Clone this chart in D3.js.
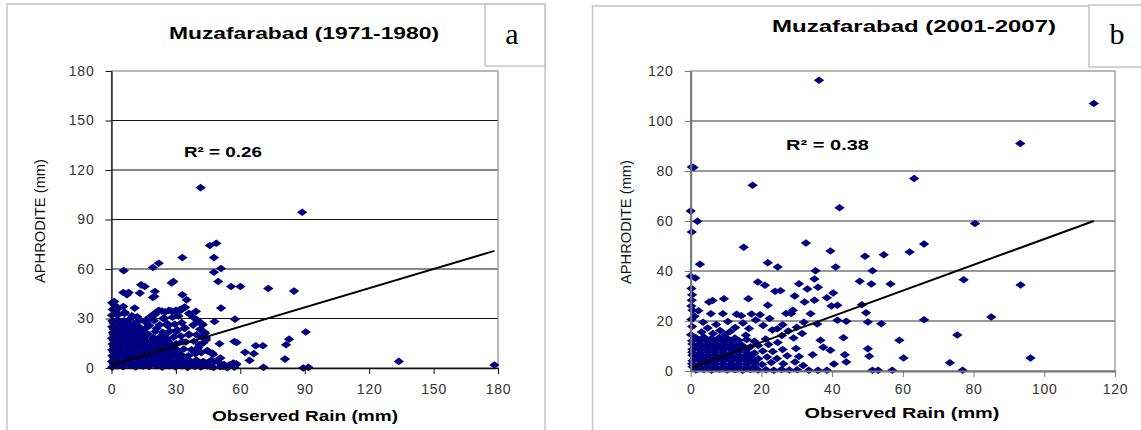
<!DOCTYPE html>
<html>
<head>
<meta charset="utf-8">
<script src="https://cdn.jsdelivr.net/npm/d3@7/dist/d3.min.js"></script>
<style>
body { margin: 0; background: #fff; }
svg { display: block; font-family: "Liberation Sans", Arial, sans-serif; }
</style>
</head>
<body>
<div id="chart"></div>
<script>
// ---- panel a : Muzafarabad 1971-1980 (observed rain, aphrodite) ----
const titleA = "Muzafarabad (1971-1980)";
const xTicksA = [0, 30, 60, 90, 120, 150, 180];
const yTicksA = [0, 30, 60, 90, 120, 150, 180];
const r2A = "R² = 0.26";
const trendA = [1.8, 0.388]; // intercept, slope
const outlierA = [[41.5,109.3],[88.8,94.4],[45.8,74.2],[48.8,75.6],[47.7,66.9],[33,66.9],[5.7,59],[19.3,60.9],
  [22,63.5],[47.7,58],[51,60.3],[49.7,52.4],[55.7,49.4],[60,49.4],[73,48.2],[85,46.6],[51,36.3],[39.3,34.3],
  [57.5,29.6],[48,28.2],[90.5,21.8],[82.7,17.5],[81.3,14.1],[67.2,13.5],[70.5,13.5],[62.2,9.5],[66.3,8.7],
  [64.3,4.6],[80.8,5.4],[133.8,4],[178.3,1.8],[70.8,0.4],[89.3,0],[91.7,0.4],[50.3,14.7],[50.7,6],[57.2,16.1],
  [58.3,15.5],[56.7,3],[58,2]];
const midA = [[5.5,45.8],[7.2,44.4],[8,45.8],[13.2,45.4],[13.8,50.4],[15.5,49.4],[20.2,46.4],[19.3,42.7],[20,43.5],
  [28.8,52.4],[28,51.5],[33,44.4],[35,41.3],[10.8,36.3],[5.5,37.3],[1.3,40.3],[22,35],[25,34],[28,34.5],[30,35],
  [32,35.5],[34,37],[36,33],[40,29],[42,27],[38,26],[43,22],[42,19],[44,17],[41,14],[40,12],[45,10],[47,9],[48,4],
  [52,1],[55,2],[46,1],[44,3],[36,20],[34,24],[33,16],[30,22],[26,27],[24,30],[18,31],[16,29],[12,31],[20,33],[3,36],[6,33]];
const clusterA = [[0.3,39.5],[1.5,38],[0.5,35.5],[2.5,36],[0.2,32],[1.8,33],[0.4,28.5],[0.3,25],[0.6,21.5],[0.2,18],
  [0.5,14.5],[0.3,11],[0.4,7.5],[0.2,4],[0.3,0.5],[1.2,2],
  [2.5,1.2],[5.4,0.8],[8.6,1.5],[11.3,0.6],[14.7,1.1],[17.5,0.9],[20.8,1.4],[23.6,0.5],[26.9,1.2],[29.7,0.7],[32.8,1.3],
  [35.5,0.4],[38.9,1.0],[41.6,0.6],[44.8,1.2],[47.5,0.3],[50.6,0.8],[53.9,0.2],[57.2,0.5],
  [1,2.8],[4,3.0],[7,2.6],[10,2.9],[13,2.7],[16,3.1],[19,2.6],[22,2.9],[25,2.7],[28,3.0],[31,2.6],[34,2.9],[37,2.5],[40,2.8],[43,2.4],
  [3.8,4.6],[6.9,4.2],[9.7,4.9],[12.8,4.3],[15.6,4.7],[18.9,4.1],[21.7,4.8],[24.8,4.4],[27.5,4.9],[30.9,4.2],[33.6,4.6],
  [36.8,4.0],[39.5,4.8],[42.7,3.9],[46.2,4.5],
  [1,6.2],[4,6.5],[7,6.1],[10,6.4],[13,6.0],[16,6.3],[19,6.6],[22,6.1],[25,6.4],[28,6.2],[31,6.5],[34,6.1],
  [2.2,8.1],[5.3,7.6],[8.4,8.3],[11.6,7.8],[14.3,8.4],[17.7,7.5],[20.5,8.2],[23.4,7.9],[26.6,8.5],[29.3,7.7],[32.5,8.0],
  [35.8,7.4],[39.1,8.6],[41.8,9.2],
  [1,9.7],[4,10.0],[7,9.6],[10,9.9],[13,9.5],[16,9.8],[19,10.1],[22,9.6],[25,9.9],[28,9.7],[31,10.2],
  [3.6,11.4],[6.7,11.9],[9.8,11.2],[12.4,11.7],[15.9,11.3],[18.6,11.8],[21.4,11.1],[24.7,11.6],[27.3,11.9],[30.4,11.2],
  [33.7,11.5],[37.2,11.0],
  [1,13.1],[4,13.4],[7,13.0],[10,13.3],[13,12.9],[16,13.2],[19,13.5],[22,13.0],[25,13.3],[28,13.1],
  [2.4,15.1],[5.8,14.6],[8.5,15.3],[11.2,14.8],[14.6,15.4],[17.4,14.7],[20.7,15.2],[23.5,14.9],[26.8,15.5],[30.1,14.6],
  [34.6,15.8],[38.4,16.2],
  [1,16.7],[4,17.0],[7,16.6],[10,16.9],[13,16.5],[16,16.8],[19.2,16.9],[22,17.1],[26,16.6],
  [3.5,18.6],[6.4,18.2],[9.6,18.9],[12.7,18.3],[15.3,18.8],[19.5,18.4],[22.6,18.9],[25.4,18.1],[28.9,18.7],[32.3,19.4],[36.1,20.5],
  [1,20.2],[4,20.5],[7,20.1],[10,20.4],[13,20.0],[17,20.6],[25,20.2],
  [2.1,22.2],[5.2,21.7],[8.8,22.4],[11.6,22.0],[14.5,22.5],[20.4,22.1],[23.8,21.6],[27.2,22.3],[30.6,23.1],[34.2,24.3],
  [1,23.7],[4,24.0],[7,23.6],[10,23.9],[13.2,23.8],[16,24.2],[21,23.9],
  [3.9,25.6],[6.6,25.1],[9.4,25.8],[12.5,25.3],[17.6,25.7],[22.5,26.2],[26.3,25.4],[29.5,26.5],[32.7,27.5],
  [1,27.2],[4,27.5],[7,27.1],[11,27.4],[16,27.6],
  [2.7,29.2],[5.9,28.6],[8.2,29.4],[13.4,29.0],[19.8,28.7],[24.6,30.2],[28.4,30.8],[31.2,31.5],
  [3.4,32.6],[6.2,33.8],[9.5,31.7],[20.3,32.4],[23.5,34.5],[26.8,34.9],[29.6,34.2],[32.4,35.1],[34.3,36.7],[36.4,32.8],
  [38.2,30.6],[40.3,28.4],[42.5,26.2],[41.2,23.5],[43.6,21.1],[44.1,18.2],[39.6,20.1],[42.8,15.3],[40.5,12.4],
  [44.6,10.6],[47.3,8.2],[49.5,3.8],[52.4,2.1],[55.3,1.6],[58.1,2.6]];

// ---- panel b : Muzafarabad 2001-2007 ----
const titleB = "Muzafarabad (2001-2007)";
const xTicksB = [0, 20, 40, 60, 80, 100, 120];
const yTicksB = [0, 20, 40, 60, 80, 100, 120];
const r2B = "R² = 0.38";
const trendB = [1.2, 0.516];
const outlierB = [[36.3,116.3],[114,107],[93.2,91],[0.3,81.6],[0.8,81.4],[63.2,77],[17.5,74.3],[42.1,65.3],[0,64],
  [1.9,59.9],[80.4,59],[0.3,55.6],[32.6,51.2],[66,50.8],[15,49.5],[39.5,48],[61.9,47.6],[54.6,46.5],[49.3,45.9],
  [2.6,42.7],[21.8,43.3],[24.6,41.6],[41,41.6],[35.3,40.1],[51.4,40.1],[0,37.9],[1.3,37.2],[77.2,36.5],[47.8,35.9],
  [51.1,34.8],[56.5,34.8],[93.3,34.4],[35,36.8],[30.6,34.9],[19,35.6],[21,34.3],[23.9,31.9],[25.4,32.1],[40.3,31.2],
  [29.4,30],[38.5,29.3],[35,28.3],[32.2,27.6],[9.4,28.9],[16.3,28.9],[5.2,27.6],[6.2,28.2],[0.3,28.3],[48.4,26.5],
  [41.5,26.3],[21.8,26.3],[28.9,24.3],[28.4,23],[49.6,23.3],[33.9,22.9],[13,22.7],[9.1,22.9],[5.7,22.9],[1.1,21.9],
  [85,21.6],[66,20.5],[41.5,20.3],[44,19.9],[50.1,19.6],[53.9,18.9],[24.5,16.9],[75.4,14.4],[59,12.3],[36.7,12.3],
  [43.2,13.3],[50.1,8.9],[43.6,6.5],[50.5,5.9],[60.2,5.2],[96.1,5.2],[44,3.6],[73.3,3.3],[51.4,0.3],[53,0.3],[57,0.3],
  [76.9,0.3],[33.4,0.3],[36,0.3],[38.5,0.3],[39.5,8.3],[40.5,2.8],[37.5,9.5],[34.5,6.5],[35.8,18.8],[32,19.5],
  [30,17.5],[26,18.5],[27,23],[33,32.8],[36,33.5],[39.8,26]];
const midB = [[3.5,19.5],[4.8,17.2],[7.2,18.6],[10.5,19.8],[8.3,16.2],[12.6,17.4],[14.8,19.2],[16.5,17.0],[18.4,20.4],
  [19.6,22.5],[17.2,22.8],[20.5,18.2],[22.3,21.0],[23.1,16.4],[25.8,14.2],[27.6,16.0],[29.1,13.2],[31.5,15.0],
  [11.2,15.8],[14.3,22.1],[2.2,24.1],[0.5,24.3],[0.2,20.6],[0.4,17.8],[3.1,15.6],[6.3,15.0],[9.8,14.7],[15.6,14.3],
  [0.2,33],[0.4,30.5],[0.2,26],[0.1,14.5]];
const clusterB = [[1.5,0.4],[3.7,0.6],[5.9,0.3],[8.1,0.7],[10.3,0.4],[12.5,0.5],[14.7,0.3],[16.9,0.6],[19.1,0.4],
  [21.3,0.5],[23.5,0.3],[25.7,0.6],[27.9,0.4],[30.1,0.5],
  [0.5,1.7],[2.6,1.6],[4.8,1.9],[7.0,1.5],[9.2,1.8],[11.4,1.6],[13.6,1.9],[15.8,1.5],[18.0,1.8],
  [0.4,2.9],[2.6,2.6],[4.8,3.1],[7.0,2.7],[9.2,3.0],[11.4,2.5],[13.6,2.9],[15.8,2.7],[18.0,3.2],[20.2,2.6],[22.8,3.4],
  [26.2,2.9],[29.5,3.6],[31.8,2.2],
  [0.5,4.1],[2.6,3.9],[4.8,4.2],[7.0,3.8],[9.2,4.1],[11.4,3.9],[13.6,4.2],[15.8,3.8],[18.0,4.0],
  [1.5,5.2],[3.7,4.9],[5.9,5.4],[8.1,5.0],[10.3,5.3],[12.5,4.8],[14.7,5.1],[16.9,5.5],[19.1,4.9],[21.6,5.6],[24.4,5.0],
  [27.3,6.1],[30.6,5.8],
  [0.5,6.3],[2.6,6.1],[4.8,6.5],[7.0,6.2],[9.2,6.4],[11.4,6.0],[13.6,6.4],[15.8,6.2],[17.6,6.6],
  [0.4,7.5],[2.6,7.2],[4.8,7.7],[7.0,7.3],[9.2,7.6],[11.4,7.1],[13.6,7.8],[15.8,7.4],[18.0,7.2],[20.4,8.0],[23.2,7.8],
  [26.0,8.6],[29.8,9.0],
  [0.5,8.7],[2.6,8.5],[4.8,8.8],[7.0,8.4],[9.2,8.7],[11.4,8.5],[13.6,8.9],[15.8,8.6],
  [1.5,9.8],[3.7,9.5],[5.9,10.0],[8.1,9.6],[10.3,9.9],[12.5,9.4],[14.7,10.1],[16.9,9.7],[19.1,10.2],[22.0,10.6],[24.6,11.4],
  [0.5,10.8],[2.6,10.6],[4.8,11.0],[7.0,10.7],[9.2,11.1],[11.4,10.6],[13.6,11.0],
  [0.4,12.1],[2.6,11.8],[4.8,12.3],[7.0,11.9],[9.2,12.4],[11.4,11.7],[13.6,12.2],[15.8,12.6],[18.0,11.9],[21.2,12.8],
  [1.5,13.3],[3.7,13.6],[5.9,13.0],[8.1,13.4],[10.3,13.1],[12.5,13.2]];

const svg = d3.select("#chart").append("svg").attr("width", 1141).attr("height", 430);

//diamond marker, wider than tall like the excel one
const diamond = "M0,-3.8L5.2,0L0,3.8L-5.2,0Z";

function drawPanel(p) {
    const g = svg.append("g");

    //outer chart frame and the letter box
    g.append("rect").attr("x", p.frame[0]).attr("y", p.frame[1]).attr("width", p.frame[2]).attr("height", p.frame[3])
        .attr("fill", "none").attr("stroke", "#c4c4c4").attr("stroke-width", 1.5);
    g.append("rect").attr("x", p.box[0]).attr("y", p.box[1]).attr("width", p.box[2]).attr("height", p.box[3])
        .attr("fill", "#fff").attr("stroke", "#c4c4c4").attr("stroke-width", 1.5);
    g.append("text").attr("x", p.letterPos[0]).attr("y", p.letterPos[1]).attr("text-anchor", "middle")
        .style("font-family", "'Liberation Serif', 'Times New Roman', serif").style("font-size", "30px")
        .text(p.letter);

    const x = d3.scaleLinear().domain([0, p.xMax]).range([p.left, p.right]);
    const y = d3.scaleLinear().domain([0, p.yMax]).range([p.bottom, p.top]);

    //horizontal gridlines
    g.append("g").selectAll("line").data(p.yTicks.filter(d => d > 0 && d < p.yMax)).join("line")
        .attr("x1", p.left).attr("x2", p.right).attr("y1", d => y(d)).attr("y2", d => y(d))
        .attr("stroke", p.gridColor).attr("stroke-width", 1);

    //plot area border (top / right are grey)
    g.append("rect").attr("x", p.left).attr("y", p.top).attr("width", p.right - p.left).attr("height", p.bottom - p.top)
        .attr("fill", "none").attr("stroke", "#8a8a8a").attr("stroke-width", 1.2);

    //points
    g.append("g").selectAll("path").data(p.points).join("path")
        .attr("d", diamond)
        .attr("transform", d => `translate(${x(d[0])},${y(d[1])})`)
        .attr("fill", "#000080");

    //trend line
    const xEnd = d3.max(p.points, d => d[0]);
    g.append("line")
        .attr("x1", x(0)).attr("y1", y(p.trend[0]))
        .attr("x2", x(xEnd)).attr("y2", y(p.trend[0] + p.trend[1] * xEnd))
        .attr("stroke", "#000").attr("stroke-width", 2);

    //axes
    const yAxis = g.append("g").attr("transform", `translate(${p.left},0)`)
        .call(d3.axisLeft(y).tickValues(p.yTicks).tickSizeInner(6).tickSizeOuter(0).tickPadding(11));
    const xAxis = g.append("g").attr("transform", `translate(0,${p.bottom})`)
        .call(d3.axisBottom(x).tickValues(p.xTicks).tickSizeInner(6).tickSizeOuter(0).tickPadding(p.xPad));
    [yAxis, xAxis].forEach(a => {
        a.select(".domain").attr("stroke", p.axisColor).attr("stroke-width", p.axisWidth);
        a.selectAll(".tick line").attr("stroke", p.axisColor);
        a.selectAll(".tick text").attr("fill", "#333").style("font-size", "14px")
            .style("font-family", "'Liberation Sans', Arial, sans-serif").attr("letter-spacing", "0.8px");
    });

    //texts
    g.append("text").attr("x", p.titlePos[0]).attr("y", p.titlePos[1]).attr("text-anchor", "middle")
        .style("font-weight", "bold").style("font-size", "17px")
        .attr("textLength", p.titlePos[2]).attr("lengthAdjust", "spacingAndGlyphs")
        .text(p.title);
    g.append("text").attr("x", p.xTitlePos[0]).attr("y", p.xTitlePos[1]).attr("text-anchor", "middle")
        .style("font-weight", "bold").style("font-size", "14.5px")
        .attr("textLength", p.xTitlePos[2]).attr("lengthAdjust", "spacingAndGlyphs")
        .text("Observed Rain (mm)");
    g.append("text").attr("transform", `translate(${p.yTitlePos[0]},${p.yTitlePos[1]}) rotate(-90)`)
        .attr("text-anchor", "middle").attr("dominant-baseline", "central")
        .style("font-size", "15px").attr("fill", "#111")
        .attr("textLength", p.yTitlePos[2]).attr("lengthAdjust", "spacingAndGlyphs")
        .text("APHRODITE (mm)");
    g.append("text").attr("x", p.r2Pos[0]).attr("y", p.r2Pos[1])
        .style("font-weight", "bold").style("font-size", "14.5px")
        .attr("textLength", p.r2Pos[2]).attr("lengthAdjust", "spacingAndGlyphs")
        .text(p.r2);
}

drawPanel({
    frame: [7, 4, 538, 440], box: [485, 4, 60, 62], letter: "a", letterPos: [512, 44],
    left: 111.5, right: 498, top: 71, bottom: 368, xMax: 180, yMax: 180,
    xTicks: xTicksA, yTicks: yTicksA, xPad: 10,
    gridColor: "#111", axisColor: "#111", axisWidth: 1.3,
    points: clusterA.concat(midA, outlierA), trend: trendA, r2: r2A,
    title: titleA, titlePos: [304, 39, 270], xTitlePos: [305, 421, 186], yTitlePos: [39, 221, 124], r2Pos: [184, 157, 78]
});

drawPanel({
    frame: [592.5, 6, 600, 440], box: [1089, 5, 80, 62], letter: "b", letterPos: [1117, 44],
    left: 690.7, right: 1115, top: 71, bottom: 371, xMax: 120, yMax: 120,
    xTicks: xTicksB, yTicks: yTicksB, xPad: 7,
    gridColor: "#333", axisColor: "#777", axisWidth: 2,
    points: clusterB.concat(midB, outlierB), trend: trendB, r2: r2B,
    title: titleB, titlePos: [914, 32, 284], xTitlePos: [902, 418, 195], yTitlePos: [625, 222, 124], r2Pos: [786, 150, 83]
});
</script>
</body>
</html>
